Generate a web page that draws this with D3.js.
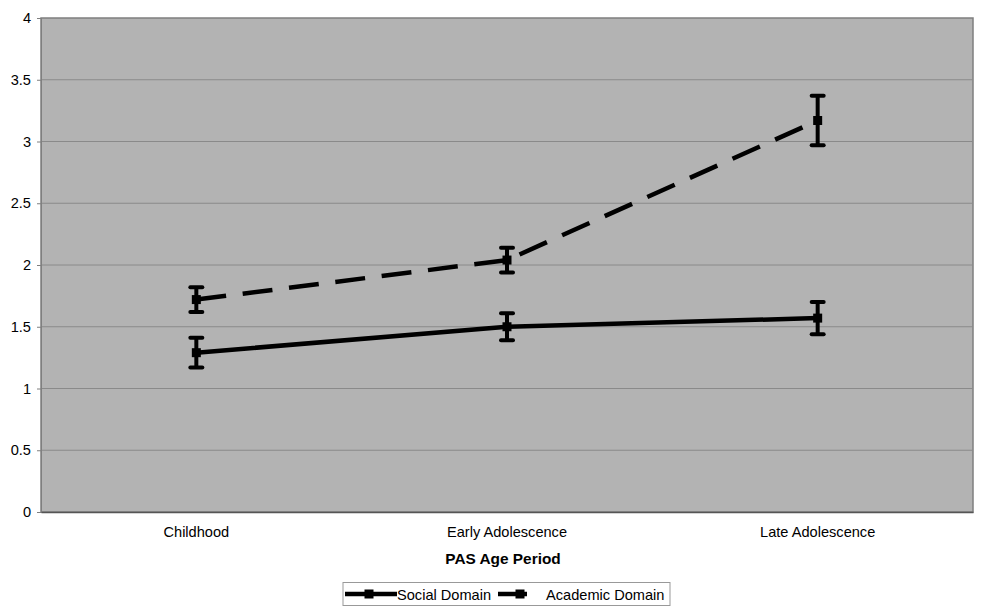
<!DOCTYPE html>
<html><head><meta charset="utf-8">
<script src="https://cdn.jsdelivr.net/npm/d3@7"></script>
<style>body{margin:0;background:#fff;} svg{display:block;} text{font-family:"Liberation Sans",Arial,sans-serif;}</style>
</head><body>
<svg id="c" width="983" height="614"></svg>
<script>
const categories = ["Childhood", "Early Adolescence", "Late Adolescence"];
const socialMean = [1.29, 1.50, 1.57];
const socialErr = [0.12, 0.11, 0.13];
const academicMean = [1.72, 2.04, 3.17];
const academicErr = [0.10, 0.10, 0.20];
const yTicks = [0, 0.5, 1, 1.5, 2, 2.5, 3, 3.5, 4];
const seriesNames = ["Social Domain", "Academic Domain"];

const svg = d3.select("#c");
const L = 41, R = 973, T = 18, B = 512;
const x = d3.scaleBand().domain(categories).range([L, R]);
const y = d3.scaleLinear().domain([0, 4]).range([B, T]);

svg.append("rect").attr("x", L).attr("y", T).attr("width", R - L).attr("height", B - T)
  .attr("fill", "#b3b3b3").attr("stroke", "#7f7f7f").attr("stroke-width", 1.5);

svg.append("g").selectAll("line").data(yTicks.filter(d => d > 0 && d < 4)).join("line")
  .attr("x1", L).attr("x2", R).attr("y1", d => y(d)).attr("y2", d => y(d))
  .attr("stroke", "#8a8a8a").attr("stroke-width", 1);

const yAxis = svg.append("g").attr("transform", `translate(${L},0)`)
  .call(d3.axisLeft(y).tickValues(yTicks).tickFormat(d3.format("")).tickSize(4).tickPadding(6));
yAxis.select(".domain").attr("stroke", "#7f7f7f");
yAxis.selectAll(".tick line").attr("stroke", "#7f7f7f");
yAxis.selectAll("text").attr("font-size", 14.6).attr("fill", "#000");

const xAxis = svg.append("g").attr("transform", `translate(0,${B})`)
  .call(d3.axisBottom(x).tickSize(0).tickPadding(15));
xAxis.select(".domain").attr("stroke", "#555").attr("stroke-width", 1.5);
xAxis.selectAll("text").attr("font-size", 14.6).attr("fill", "#000");

svg.append("text").attr("x", 503).attr("y", 563.5).attr("text-anchor", "middle")
  .attr("font-size", 15.4).attr("font-weight", "bold").text("PAS Age Period");

const cx = d => x(d) + x.bandwidth() / 2;
function drawSeries(means, errs, dash) {
  const data = categories.map((c, i) => ({c, m: means[i], e: errs[i]}));
  svg.append("path").datum(data)
    .attr("d", d3.line().x(d => cx(d.c)).y(d => y(d.m)))
    .attr("fill", "none").attr("stroke", "#000").attr("stroke-width", 4.5)
    .attr("stroke-dasharray", dash);
  const g = svg.append("g");
  data.forEach(d => {
    g.append("line").attr("x1", cx(d.c)).attr("x2", cx(d.c))
      .attr("y1", y(d.m - d.e)).attr("y2", y(d.m + d.e)).attr("stroke", "#000").attr("stroke-width", 4);
    [d.m - d.e, d.m + d.e].forEach(v => {
      g.append("line").attr("x1", cx(d.c) - 6).attr("x2", cx(d.c) + 6)
        .attr("y1", y(v)).attr("y2", y(v)).attr("stroke", "#000").attr("stroke-width", 4)
        .attr("stroke-linecap", "round");
    });
    g.append("rect").attr("x", cx(d.c) - 4.5).attr("y", y(d.m) - 4.5).attr("width", 9).attr("height", 9).attr("fill", "#000");
  });
}
drawSeries(socialMean, socialErr, null);
drawSeries(academicMean, academicErr, "30,16.7");

// legend
const lg = svg.append("g");
lg.append("rect").attr("x", 343).attr("y", 582.5).attr("width", 327).attr("height", 23)
  .attr("fill", "#fff").attr("stroke", "#999").attr("stroke-width", 1);
function legendItem(x0, x1, mx, name, tx) {
  lg.append("line").attr("x1", x0).attr("x2", x1).attr("y1", 594).attr("y2", 594)
    .attr("stroke", "#000").attr("stroke-width", 4.5);
  lg.append("rect").attr("x", mx - 4.5).attr("y", 589.5).attr("width", 9).attr("height", 9).attr("fill", "#000");
  lg.append("text").attr("x", tx).attr("y", 599.5).attr("font-size", 14.6).text(name);
}
legendItem(345, 397, 369, seriesNames[0], 397);
legendItem(498, 527, 520, seriesNames[1], 546);
</script>
</body></html>
